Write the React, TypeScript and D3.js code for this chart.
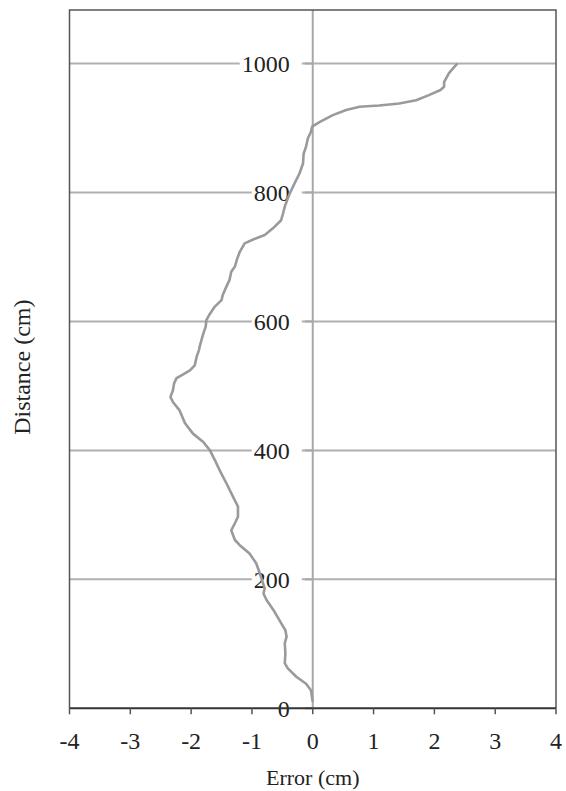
import React, { useEffect, useRef } from 'react';
import * as d3 from 'd3';

// Distance along the track (cm) and the measured error (cm)
const distance = [
  10, 28, 38, 49, 62, 70, 85, 101, 111, 121, 132, 150, 168, 178, 186, 209, 225, 240, 253, 261,
  276, 287, 297, 313, 328, 349, 369, 385, 400, 413, 426, 442, 462, 475, 483, 493, 504, 512, 518,
  524, 532, 545, 556, 561, 571, 581, 592, 602, 612, 623, 633, 641, 654, 664, 677, 685, 695, 708,
  721, 727, 734, 744, 757, 767, 778, 791, 798, 814, 829, 845, 860, 871, 884, 894, 902, 909, 920,
  928, 933, 935, 938, 943, 951, 959, 964, 971, 985, 997, 1000,
];
const error = [
  0, -0.03, -0.11, -0.27, -0.41, -0.46, -0.45, -0.46, -0.43, -0.45, -0.52, -0.63, -0.76, -0.81,
  -0.79, -0.87, -0.93, -1.04, -1.2, -1.28, -1.34, -1.28, -1.23, -1.23, -1.31, -1.42, -1.53, -1.61,
  -1.69, -1.8, -1.97, -2.1, -2.19, -2.3, -2.34, -2.3, -2.28, -2.24, -2.13, -2.02, -1.94, -1.91,
  -1.87, -1.86, -1.83, -1.8, -1.76, -1.75, -1.69, -1.61, -1.5, -1.48, -1.42, -1.37, -1.34, -1.28,
  -1.25, -1.2, -1.12, -0.98, -0.79, -0.66, -0.52, -0.49, -0.46, -0.41, -0.38, -0.3, -0.22, -0.16,
  -0.15, -0.11, -0.08, -0.03, -0.01, 0.11, 0.33, 0.55, 0.77, 1.09, 1.42, 1.7, 1.91, 2.1, 2.16,
  2.16, 2.24, 2.35, 2.38,
];
const xTicks = [-4, -3, -2, -1, 0, 1, 2, 3, 4];
const yTicks = [0, 200, 400, 600, 800, 1000];

const App = () => {
  const svgRef = useRef<SVGSVGElement>(null);

  useEffect(() => {
    const W = 566;
    const H = 791;
    const left = 69.5, right = 556, top = 10, bottom = 708.3;
    const font = 'Liberation Serif, Times New Roman, Times, serif';

    const svg = d3.select(svgRef.current).attr('width', W).attr('height', H);
    svg.selectAll('*').remove();

    const x = d3.scaleLinear().domain([-4, 4]).range([left, right]);
    const y = d3.scaleLinear().domain([0, 1083]).range([bottom, top]);

    svg.append('rect').attr('width', W).attr('height', H).attr('fill', '#fff');

    // horizontal grid
    svg.selectAll('.grid')
      .data(yTicks.filter(d => d > 0))
      .enter()
      .append('line')
      .attr('x1', left)
      .attr('x2', right)
      .attr('y1', d => y(d))
      .attr('y2', d => y(d))
      .style('stroke', '#b0b0b0')
      .style('stroke-width', 2);

    // vertical line at zero
    svg.append('line')
      .attr('x1', x(0)).attr('x2', x(0))
      .attr('y1', top).attr('y2', bottom)
      .style('stroke', '#a8a8a8')
      .style('stroke-width', 2);

    // frame
    svg.append('path')
      .attr('d', `M${left},${bottom}V${top}H${right}V${bottom}`)
      .attr('fill', 'none')
      .style('stroke', '#555')
      .style('stroke-width', 1.5);

    // y labels sit left of the zero line, with a white box behind
    const yLab = svg.selectAll('.ylab')
      .data(yTicks)
      .enter()
      .append('g')
      .attr('transform', d => `translate(${x(0) - 23},${y(d)})`);
    yLab.append('rect')
      .attr('x', d => -String(d).length * 12 - 2)
      .attr('y', -9)
      .attr('width', d => String(d).length * 12 + 14)
      .attr('height', 18)
      .attr('fill', d => (d === 0 ? 'none' : '#fff'));
    yLab.append('line')
      .attr('x1', 15).attr('x2', 23)
      .style('stroke', '#a8a8a8')
      .style('stroke-width', 2);
    yLab.append('text')
      .attr('dy', '0.35em')
      .attr('text-anchor', 'end')
      .attr('font-family', font)
      .attr('font-size', 24)
      .attr('fill', '#222')
      .text(d => d);

    // the curve
    const line = d3.line<number>()
      .x((d, i) => x(error[i]))
      .y(d => y(d));
    svg.append('path')
      .datum(distance)
      .attr('fill', 'none')
      .attr('stroke', '#9a9a9a')
      .attr('stroke-width', 2.6)
      .attr('stroke-linejoin', 'round')
      .attr('d', line);

    // x axis
    svg.append('line')
      .attr('x1', left).attr('x2', right)
      .attr('y1', bottom).attr('y2', bottom)
      .style('stroke', '#333')
      .style('stroke-width', 2);
    svg.selectAll('.xtick')
      .data(xTicks)
      .enter()
      .append('line')
      .attr('x1', d => x(d)).attr('x2', d => x(d))
      .attr('y1', bottom).attr('y2', bottom + 6)
      .style('stroke', '#555')
      .style('stroke-width', 1.5);
    svg.selectAll('.xlab')
      .data(xTicks)
      .enter()
      .append('text')
      .attr('x', d => x(d))
      .attr('y', 741)
      .attr('dy', '0.35em')
      .attr('text-anchor', 'middle')
      .attr('font-family', font)
      .attr('font-size', 24)
      .attr('fill', '#222')
      .text(d => (d < 0 ? `-${Math.abs(d)}` : `${d}`));

    // axis titles
    svg.append('text')
      .attr('x', x(0))
      .attr('y', 777)
      .attr('dy', '0.35em')
      .attr('text-anchor', 'middle')
      .attr('font-family', font)
      .attr('font-size', 22)
      .attr('fill', '#222')
      .text('Error (cm)');

    svg.append('text')
      .attr('transform', `translate(22,${(top + bottom) / 2 + 8}) rotate(-90)`)
      .attr('dy', '0.35em')
      .attr('text-anchor', 'middle')
      .attr('font-family', font)
      .attr('font-size', 24)
      .attr('fill', '#222')
      .text('Distance (cm)');
  }, []);

  return <svg ref={svgRef} style={{ position: 'absolute', left: 0, top: 0 }}></svg>;
};

export default App;
